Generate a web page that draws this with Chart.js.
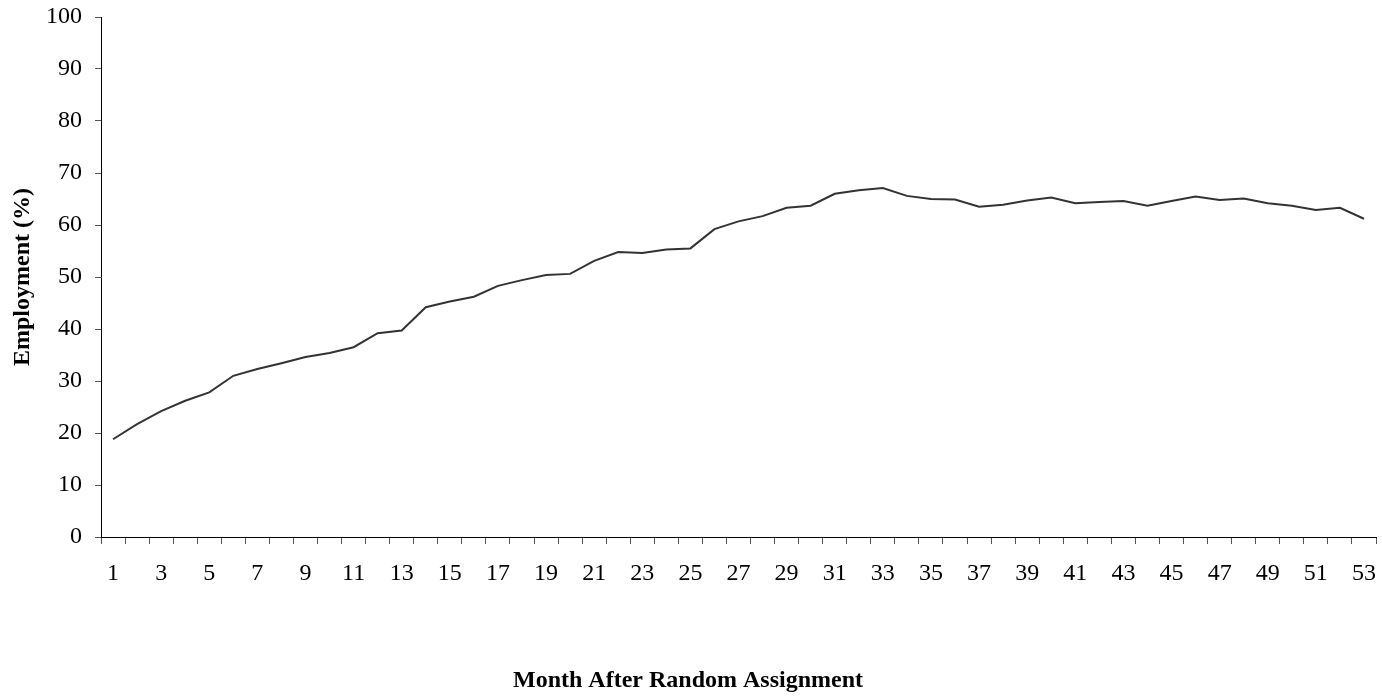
<!DOCTYPE html>
<html>
<head>
<meta charset="utf-8">
<title>Employment</title>
<script src="https://cdn.jsdelivr.net/npm/chart.js@4.4.1/dist/chart.umd.min.js"></script>
<style>
    body { margin: 0; background: #fff; }
    #contenedor { width: 1382px; height: 698px; }
</style>
</head>
<body>
<div id="contenedor">
    <canvas id="empleoChart" width="1382" height="698"></canvas>
</div>
<script>

// datos
const meses = ["1", "2", "3", "4", "5", "6", "7", "8", "9", "10",
    "11", "12", "13", "14", "15", "16", "17", "18", "19", "20",
    "21", "22", "23", "24", "25", "26", "27", "28", "29", "30",
    "31", "32", "33", "34", "35", "36", "37", "38", "39", "40",
    "41", "42", "43", "44", "45", "46", "47", "48", "49", "50",
    "51", "52", "53"];

const empleo = [18.8, 21.7, 24.2, 26.2, 27.8, 31.0, 32.3, 33.4, 34.6, 35.4,
    36.5, 39.2, 39.7, 44.2, 45.3, 46.2, 48.3, 49.4, 50.4, 50.6,
    53.1, 54.8, 54.6, 55.3, 55.5, 59.2, 60.7, 61.7, 63.3, 63.7,
    66.0, 66.7, 67.1, 65.6, 65.0, 64.9, 63.5, 63.9, 64.7, 65.3,
    64.2, 64.4, 64.6, 63.7, 64.6, 65.5, 64.8, 65.1, 64.2, 63.7,
    62.9, 63.3, 61.2];

const yMin = 0;
const yMax = 100;
const yPaso = 10;

const tituloX = "Month After Random Assignment";
const tituloY = "Employment (%)";

var fuente = "'Liberation Serif', 'Times New Roman', serif";

var ctx = document.getElementById('empleoChart').getContext('2d');
var empleoChart = new Chart(ctx, {
    type: 'line',
    data: {
        labels: meses,
        datasets: [{
            label: tituloY,
            data: empleo,
            borderColor: '#333333',
            borderWidth: 2,
            pointRadius: 0,
            tension: 0,
            fill: false
        }]
    },
    options: {
        responsive: false,
        animation: false,
        devicePixelRatio: 1,
        layout: {
            padding: { left: 0, right: 6, top: 17, bottom: 0 }
        },
        plugins: {
            legend: { display: false },
            tooltip: { enabled: false },
            // el titulo del eje x va centrado en todo el ancho, no en el area del grafico
            title: {
                display: true,
                position: 'bottom',
                text: tituloX,
                color: '#000000',
                font: { family: fuente, size: 24, weight: 'bold', lineHeight: 1.2 },
                padding: { top: 10, bottom: 3 }
            }
        },
        scales: {
            x: {
                offset: true,
                grid: {
                    offset: true,
                    drawOnChartArea: false,
                    drawTicks: true,
                    tickLength: 7,
                    color: '#555555'
                },
                border: { display: true, color: '#000000', width: 1 },
                ticks: {
                    autoSkip: false,
                    maxRotation: 0,
                    minRotation: 0,
                    padding: 15,
                    color: '#000000',
                    font: { family: fuente, size: 24 },
                    // solo los meses impares
                    callback: function (val, i) {
                        return i % 2 === 0 ? meses[i] : '';
                    }
                },
                afterFit: function (scale) {
                    scale.height = 161 - 41.8;
                    // que no agregue espacio extra por las etiquetas
                    scale.paddingLeft = 0;
                    scale.paddingRight = 0;
                }
            },
            y: {
                min: yMin,
                max: yMax,
                grid: {
                    drawOnChartArea: false,
                    drawTicks: true,
                    tickLength: 6,
                    color: '#555555'
                },
                border: { display: true, color: '#000000', width: 1 },
                ticks: {
                    stepSize: yPaso,
                    padding: 13,
                    color: '#000000',
                    font: { family: fuente, size: 24 }
                },
                title: {
                    display: true,
                    text: tituloY,
                    color: '#000000',
                    font: { family: fuente, size: 24, weight: 'bold' },
                    padding: { top: 8, bottom: 0 }
                },
                afterFit: function (scale) {
                    scale.width = 101;
                    scale.paddingTop = 0;
                    scale.paddingBottom = 0;
                }
            }
        }
    }
});

</script>
</body>
</html>
